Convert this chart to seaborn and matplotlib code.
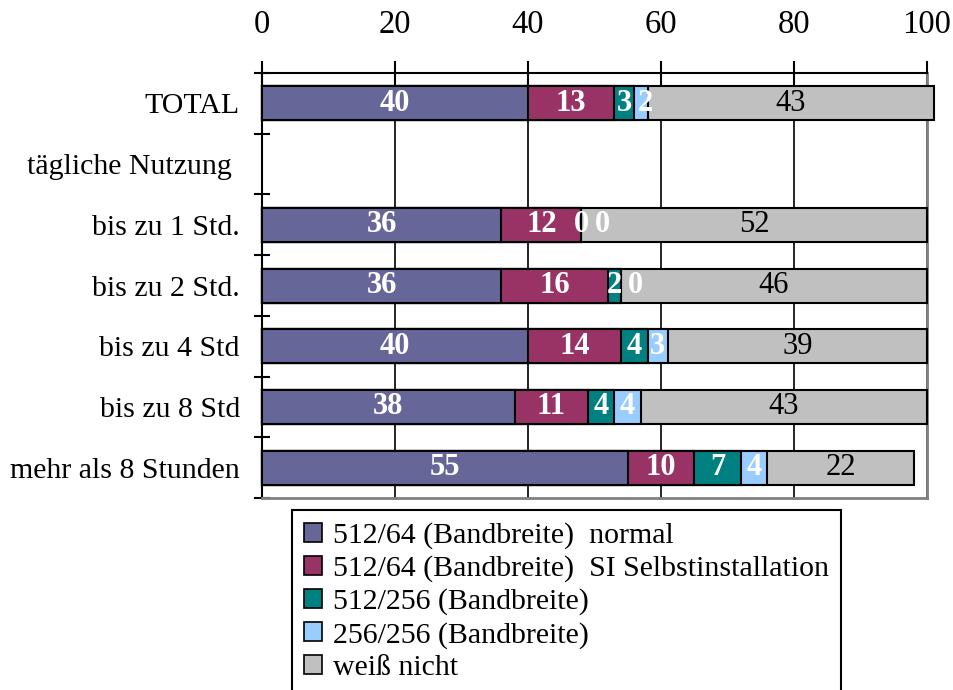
import numpy as np
import pandas as pd
import matplotlib
matplotlib.use("Agg")
import matplotlib.pyplot as plt
from matplotlib.patches import Patch
import seaborn as sns

categories = ["TOTAL", "tägliche Nutzung ", "bis zu 1 Std.", "bis zu 2 Std.",
              "bis zu 4 Std", "bis zu 8 Std", "mehr als 8 Stunden"]
series_names = ["512/64 (Bandbreite)  normal",
                "512/64 (Bandbreite)  SI Selbstinstallation",
                "512/256 (Bandbreite)",
                "256/256 (Bandbreite)",
                "weiß nicht"]
normal = [40, np.nan, 36, 36, 40, 38, 55]
si_selbst = [13, np.nan, 12, 16, 14, 11, 10]
bw_512_256 = [3, np.nan, 0, 2, 4, 4, 7]
bw_256_256 = [2, np.nan, 0, 0, 3, 4, 4]
weiss_nicht = [43, np.nan, 52, 46, 39, 43, 22]
x_ticks = [0, 20, 40, 60, 80, 100]

colors = ["#666699", "#993366", "#008080", "#99CCFF", "#C0C0C0"]
label_colors = ["white", "white", "white", "white", "black"]
label_weights = ["bold", "bold", "bold", "bold", "normal"]

sns.set_theme(style="white")
plt.rcParams["font.family"] = ["Liberation Serif", "DejaVu Serif"]

values = np.array([normal, si_selbst, bw_512_256, bw_256_256, weiss_nicht], dtype=float)
cum = np.cumsum(values, axis=0)
df = pd.DataFrame({"category": categories})
for i, name in enumerate(series_names):
    df[f"cum{i}"] = cum[i]

fig = plt.figure(figsize=(9.54, 6.90), dpi=100)
ax = fig.add_axes([262/954, 1-498/690, (927-262)/954, (498-73)/690])

# draw cumulative bars from largest to smallest -> stacked appearance
for i in reversed(range(len(series_names))):
    sns.barplot(data=df, x=f"cum{i}", y="category", order=categories, orient="h",
                color=colors[i], saturation=1, edgecolor="black", linewidth=1.5,
                width=0.56, ax=ax, zorder=3)
for p in ax.patches:
    p.set_clip_on(False)

# value labels (nudge labels of tiny segments so they do not sit on each other)
for j, cat in enumerate(categories):
    prev = None
    for i in range(len(series_names)):
        v = values[i, j]
        if np.isnan(v):
            continue
        center = cum[i, j] - v / 2
        if prev is not None and center - prev < 3.0:
            center = prev + 3.2
        prev = center
        ax.text(center, j, f"{v:.0f}", ha="center", va="center",
                color=label_colors[i], fontweight=label_weights[i],
                fontsize=22, zorder=5)

ax.set_xlim(0, 100)
ax.set_ylim(len(categories) - 0.5, -0.5)
ax.set_xlabel("")
ax.set_ylabel("")
ax.set_xticks(x_ticks)
ax.xaxis.tick_top()
ax.tick_params(axis="x", direction="inout", length=18, width=1.5, pad=15,
               labelsize=23.5, colors="black", top=True, bottom=False)
ax.set_yticks(range(len(categories)))
ax.set_yticklabels(categories)
ax.set_yticks(np.arange(-0.5, len(categories), 1.0), minor=True)
ax.tick_params(axis="y", which="major", length=0, pad=16, labelsize=21.5,
               left=True, labelcolor="black")
ax.tick_params(axis="y", which="minor", direction="inout", length=12, width=1.5,
               left=True, color="black")
ax.grid(axis="x", color="black", linewidth=1.2, zorder=0)
ax.grid(axis="y", visible=False)
ax.set_axisbelow(True)

for s in ["top", "left"]:
    ax.spines[s].set_color("black")
    ax.spines[s].set_linewidth(1.5)
for s in ["right", "bottom"]:
    ax.spines[s].set_color("#808080")
    ax.spines[s].set_linewidth(2)
    ax.spines[s].set_visible(True)

handles = [Patch(facecolor=c, edgecolor="black", linewidth=1.2) for c in colors]
leg = fig.legend(handles, series_names, loc="upper left",
                 bbox_to_anchor=(292/954, 1-510/690), frameon=True, fancybox=False,
                 edgecolor="black", fontsize=21.5, handlelength=0.6, handleheight=0.6,
                 handletextpad=0.36, labelspacing=0.21, borderpad=0.4, borderaxespad=0)
leg.get_frame().set_linewidth(1.5)
leg.get_frame().set_alpha(1)
for t in leg.get_texts():
    t.set_color("black")

fig.savefig("out.png", dpi=100)
